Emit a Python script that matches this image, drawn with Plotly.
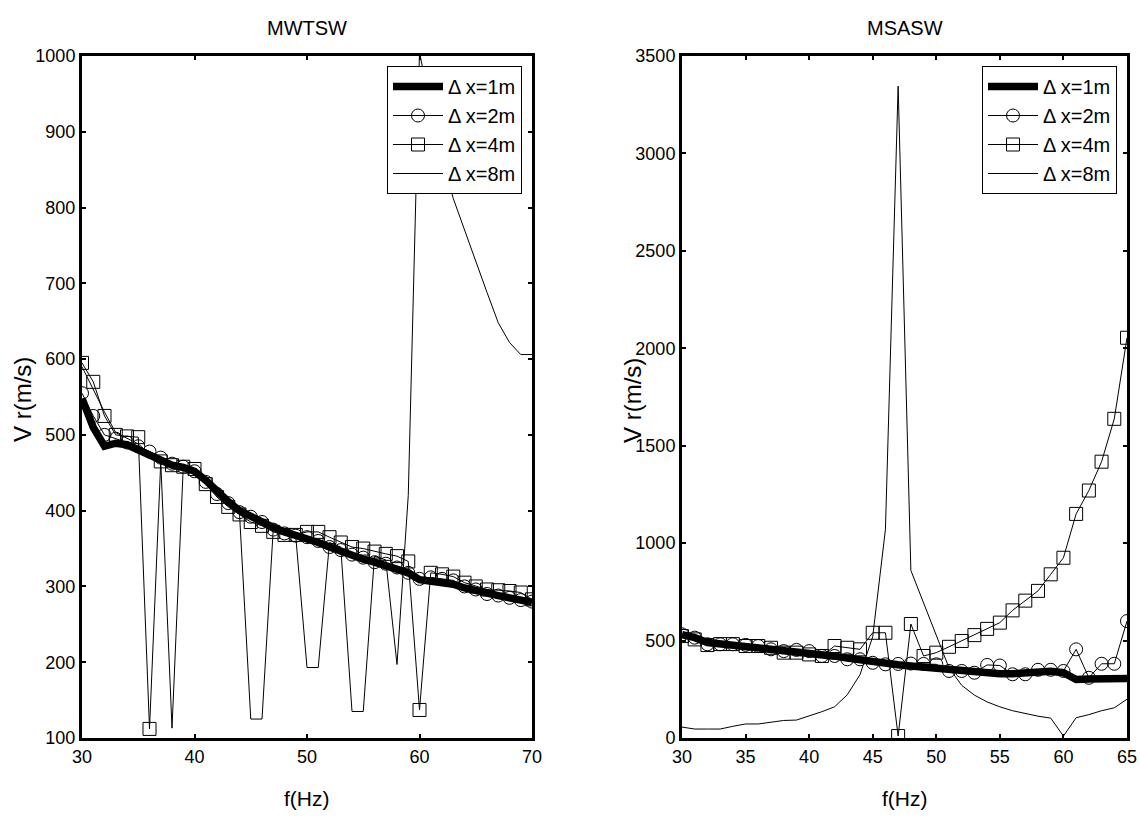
import plotly.graph_objects as go

# ---------------- data ----------------
f_left = list(range(30, 71))
left_dx1 = [548, 510, 485, 489, 487, 480, 472, 465, 460, 457, 452, 440, 425, 412, 400, 392, 385, 378, 372, 368,
            363, 358, 352, 346, 340, 336, 332, 328, 324, 318, 309, 307, 306, 303, 298, 294, 290, 288, 285, 282, 279]
left_dx2 = [555, 525, 500, 495, 490, 485, 478, 470, 462, 458, 452, 438, 422, 410, 398, 392, 385, 375, 370, 367,
            365, 360, 352, 348, 342, 338, 332, 330, 325, 318, 310, 312, 310, 308, 300, 296, 290, 288, 285, 282, 280]
left_dx4 = [595, 570, 525, 500, 498, 497, 112, 465, 460, 458, 455, 435, 418, 405, 395, 385, 380, 372, 368, 368,
            372, 372, 365, 358, 352, 350, 346, 343, 340, 333, 137, 318, 316, 313, 305, 300, 296, 295, 294, 292, 283]
left_dx8 = [590, 560, 530, 503, 495, 488, 475, 465, 113, 458, 452, 436, 420, 407, 396, 125, 125, 376, 370, 366,
            193, 193, 358, 352, 135, 135, 340, 335, 197, 420, 1005, 930, 865, 812, 770, 728, 688, 648, 622, 606, 606]

f_right = list(range(30, 66))
right_dx1 = [530, 515, 490, 483, 480, 476, 470, 463, 455, 447, 440, 430, 420, 410, 400, 392, 385, 376, 370, 364,
             356, 350, 345, 340, 335, 330, 330, 335, 345, 342, 335, 300, 303, 305, 305, 305]
right_dx2 = [532, 515, 481, 481, 481, 478, 472, 455, 446, 452, 446, 421, 421, 404, 404, 386, 378, 380, 382, 380,
             378, 344, 344, 335, 375, 372, 327, 327, 350, 350, 344, 455, 309, 381, 381, 600]
right_dx4 = [523, 506, 477, 482, 482, 472, 472, 463, 438, 438, 429, 421, 472, 463, 455, 540, 540, 10, 585, 421,
             438, 468, 498, 528, 560, 592, 655, 705, 755, 840, 925, 1150, 1270, 1418, 1638, 2054]
right_dx8 = [56, 46, 46, 46, 60, 72, 72, 80, 90, 92, 113, 135, 160, 222, 325, 520, 1070, 3345, 860, 690,
             520, 360, 270, 220, 185, 160, 140, 125, 112, 102, 10, 104, 120, 140, 155, 199]

series_names = ["Δ x=1m", "Δ x=2m", "Δ x=4m", "Δ x=8m"]
titles = ["MWTSW", "MSASW"]
x_label = "f(Hz)"
y_label = "V r(m/s)"

FONT = "Liberation Sans Narrow, Arial Narrow, Liberation Sans, Arial, sans-serif"

fig = go.Figure()


def add_series(fx, d1, d2, d4, d8, xa, ya, leg):
    fig.add_trace(go.Scatter(x=fx, y=d1, mode="lines", name=series_names[0],
                             line=dict(color="black", width=7.5), xaxis=xa, yaxis=ya, legend=leg))
    fig.add_trace(go.Scatter(x=fx, y=d2, mode="lines+markers", name=series_names[1],
                             line=dict(color="black", width=1),
                             marker=dict(symbol="circle-open", size=13, color="black", line=dict(width=1)),
                             xaxis=xa, yaxis=ya, legend=leg))
    fig.add_trace(go.Scatter(x=fx, y=d4, mode="lines+markers", name=series_names[2],
                             line=dict(color="black", width=1),
                             marker=dict(symbol="square-open", size=13, color="black", line=dict(width=1)),
                             xaxis=xa, yaxis=ya, legend=leg))
    fig.add_trace(go.Scatter(x=fx, y=d8, mode="lines", name=series_names[3],
                             line=dict(color="black", width=1), xaxis=xa, yaxis=ya, legend=leg))


add_series(f_left, left_dx1, left_dx2, left_dx4, left_dx8, "x", "y", "legend")
add_series(f_right, right_dx1, right_dx2, right_dx4, right_dx8, "x2", "y2", "legend2")

W, H = 1140, 816
ydom = [1 - 738 / H, 1 - 56 / H]

axis_common = dict(showline=True, linecolor="black", linewidth=3, mirror="allticks",
                   ticks="inside", ticklen=4, tickwidth=2, tickcolor="black",
                   showgrid=False, zeroline=False, automargin=False,
                   tickfont=dict(family=FONT, size=18, color="black"))

leg_common = dict(yanchor="top", xanchor="right", bgcolor="white", bordercolor="black", borderwidth=1,
                  font=dict(family=FONT, size=20, color="black"), itemwidth=50, tracegroupgap=0)

fig.update_layout(
    width=W, height=H,
    margin=dict(l=0, r=0, t=0, b=0),
    paper_bgcolor="white", plot_bgcolor="white",
    font=dict(family=FONT, color="black"),
    xaxis=dict(domain=[82 / W, 532 / W], range=[30, 70], tickvals=[30, 40, 50, 60, 70],
               anchor="y", **axis_common),
    yaxis=dict(domain=ydom, range=[100, 1000], tickvals=list(range(100, 1001, 100)),
               anchor="x", **axis_common),
    xaxis2=dict(domain=[682 / W, 1127 / W], range=[30, 65], tickvals=list(range(30, 66, 5)),
                anchor="y2", **axis_common),
    yaxis2=dict(domain=ydom, range=[0, 3500], tickvals=list(range(0, 3501, 500)),
                anchor="x2", **axis_common),
    legend=dict(x=522 / W, y=1 - 66 / H, **leg_common),
    legend2=dict(x=1117 / W, y=1 - 66 / H, **leg_common),
    showlegend=True,
)

for cx, t in zip([307 / W, 905 / W], titles):
    fig.add_annotation(x=cx, y=1 - 28 / H, xref="paper", yref="paper", text=t, showarrow=False,
                       font=dict(family=FONT, size=20, color="black"), xanchor="center", yanchor="middle")
    fig.add_annotation(x=cx, y=1 - 798 / H, xref="paper", yref="paper", text=x_label, showarrow=False,
                       font=dict(family=FONT, size=21, color="black"), xanchor="center", yanchor="middle")

for cx in [22 / W, 632 / W]:
    fig.add_annotation(x=cx, y=1 - 400 / H, xref="paper", yref="paper", text=y_label, showarrow=False,
                       textangle=-90, font=dict(family=FONT, size=24, color="black"),
                       xanchor="center", yanchor="middle")

fig.write_html("out.html")
